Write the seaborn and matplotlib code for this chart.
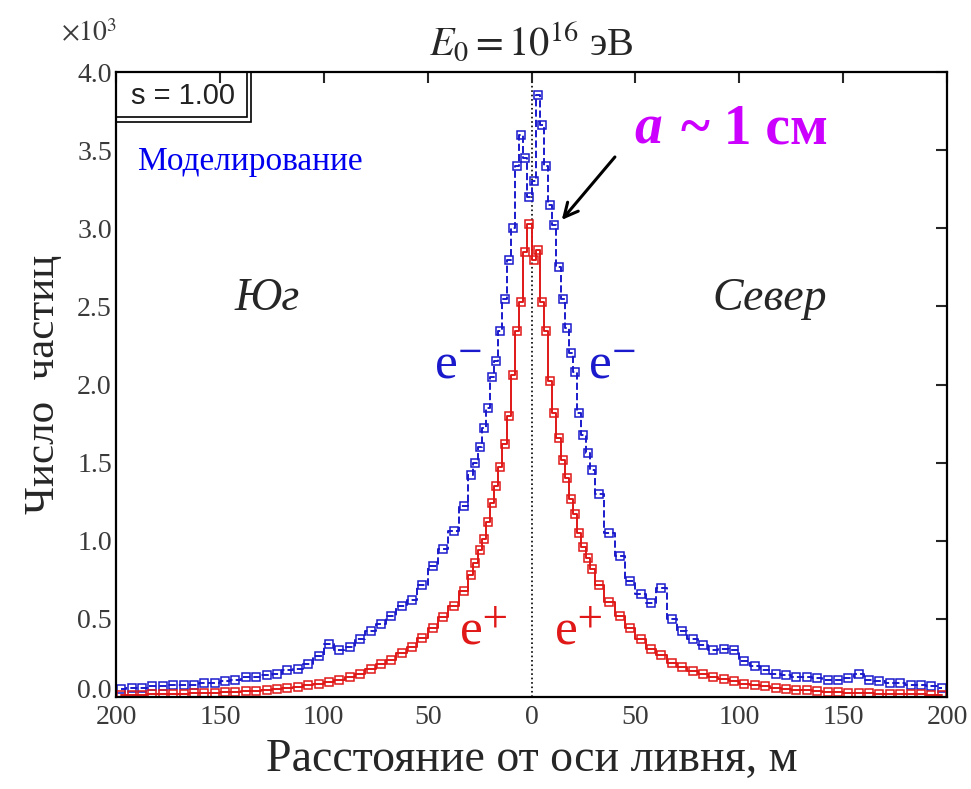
import matplotlib
matplotlib.use("Agg")
import matplotlib.pyplot as plt
import matplotlib.transforms as mtransforms
import seaborn as sns
import numpy as np
from matplotlib.patches import Rectangle

sns.set_style("white")
plt.rcParams["font.family"] = ["Liberation Serif", "DejaVu Serif"]
plt.rcParams["mathtext.fontset"] = "stix"

# bin edges in metres (one side of the shower axis)
bin_edges = np.concatenate([np.arange(0, 31, 2), np.arange(35, 201, 5)])

# counts (x10^3), listed from the axis outwards
e_plus_north = [2.80, 2.86, 2.53, 2.34, 2.02, 1.82, 1.66, 1.52, 1.40, 1.27, 1.17, 1.05, 0.96, 0.89, 0.82,
                0.72, 0.61, 0.52, 0.44, 0.37, 0.31, 0.27, 0.22, 0.19, 0.165,
                0.145, 0.13, 0.115, 0.10, 0.085, 0.075, 0.068, 0.06, 0.052, 0.046,
                0.042, 0.038, 0.034, 0.03, 0.028, 0.026, 0.024, 0.022, 0.02, 0.019,
                0.018, 0.017, 0.016, 0.015]
e_plus_south = [3.03, 2.85, 2.53, 2.34, 2.06, 1.80, 1.62, 1.47, 1.35, 1.24, 1.12, 1.01, 0.94, 0.86, 0.78,
                0.68, 0.58, 0.51, 0.44, 0.38, 0.32, 0.28, 0.24, 0.21, 0.18,
                0.15, 0.13, 0.11, 0.095, 0.085, 0.075, 0.066, 0.058, 0.05, 0.045,
                0.04, 0.036, 0.032, 0.029, 0.027, 0.025, 0.023, 0.021, 0.02, 0.018,
                0.017, 0.016, 0.015, 0.014]
e_minus_north = [3.30, 3.85, 3.66, 3.40, 3.15, 3.02, 2.75, 2.55, 2.36, 2.20, 2.08, 1.82, 1.68, 1.56, 1.45,
                 1.30, 1.05, 0.90, 0.74, 0.66, 0.60, 0.70, 0.50, 0.42, 0.37,
                 0.33, 0.30, 0.31, 0.30, 0.23, 0.20, 0.17, 0.15, 0.14, 0.13,
                 0.13, 0.12, 0.11, 0.11, 0.12, 0.15, 0.11, 0.10, 0.09, 0.09,
                 0.08, 0.08, 0.07, 0.06]
e_minus_south = [3.20, 3.45, 3.60, 3.40, 3.00, 2.80, 2.55, 2.34, 2.15, 2.05, 1.85, 1.72, 1.60, 1.50, 1.42,
                 1.22, 1.06, 0.95, 0.84, 0.72, 0.62, 0.58, 0.52, 0.47, 0.42,
                 0.37, 0.32, 0.30, 0.34, 0.26, 0.21, 0.18, 0.17, 0.15, 0.14,
                 0.13, 0.13, 0.11, 0.10, 0.09, 0.09, 0.08, 0.08, 0.08, 0.07,
                 0.07, 0.06, 0.06, 0.05]

x_ticks = [-200, -150, -100, -50, 0, 50, 100, 150, 200]
x_ticklabels = ["200", "150", "100", "50", "0", "50", "100", "150", "200"]
y_ticks = [0.0, 0.5, 1.0, 1.5, 2.0, 2.5, 3.0, 3.5, 4.0]

centers = (bin_edges[:-1] + bin_edges[1:]) / 2
x_all = np.concatenate([-centers[::-1], centers])
e_minus = np.concatenate([np.array(e_minus_south)[::-1], e_minus_north])
e_plus = np.concatenate([np.array(e_plus_south)[::-1], e_plus_north])

blue = "#1a1acc"
red = "#e01818"

fig = plt.figure(figsize=(9.71, 7.89), dpi=100)
ax = fig.add_axes([0.1195, 0.1166, 0.8558, 0.7921])

sns.lineplot(x=x_all, y=e_minus, ax=ax, color=blue, drawstyle="steps-mid", linestyle="--",
             linewidth=1.4, marker="s", markersize=5.5, markerfacecolor="none",
             markeredgecolor=blue, markeredgewidth=1.1)
sns.lineplot(x=x_all, y=e_plus, ax=ax, color=red, drawstyle="steps-mid", linestyle="-",
             linewidth=1.4, marker="s", markersize=5.5, markerfacecolor="none",
             markeredgecolor=red, markeredgewidth=1.1)

ax.axvline(0, color="black", linestyle=":", linewidth=1.2, zorder=0)

ax.set_xlim(-200, 200)
ax.set_ylim(0, 4.0)
ax.set_xticks(x_ticks)
ax.set_xticklabels(x_ticklabels)
ax.set_yticks(y_ticks)
ax.set_yticklabels([f"{v:.1f}" for v in y_ticks])
ax.tick_params(direction="in", length=8, width=1.5, top=True, right=True,
               labelsize=20, labelcolor="#3a3a3a")
ax.tick_params(axis="y", pad=3)
ax.tick_params(axis="x", pad=6)
for s in ax.spines.values():
    s.set_linewidth(1.6)
    s.set_color("black")

# lift the "0.0" label a little so it clears the first x label
zero_label = ax.get_yticklabels()[0]
zero_label.set_transform(zero_label.get_transform() +
                         mtransforms.ScaledTranslation(0, 6 / 72, fig.dpi_scale_trans))

ax.set_xlabel("Расстояние от оси ливня, м", fontsize=33, labelpad=6)
ax.set_ylabel("Число  частиц", fontsize=31, labelpad=10)
ax.set_title(r"$E_0 = 10^{16}$ эВ", fontsize=29, pad=12)
fig.text(0.063, 0.948, r"$\times10^3$", fontsize=20, color="#3a3a3a")

# double-framed parameter box
ax.add_patch(Rectangle((0, 0.92), 0.1625, 0.08, transform=ax.transAxes, fill=False,
                       edgecolor="black", linewidth=1.2, clip_on=False))
ax.add_patch(Rectangle((0, 0.928), 0.158, 0.072, transform=ax.transAxes, fill=False,
                       edgecolor="black", linewidth=1.2, clip_on=False))
ax.text(0.081, 0.962, "s = 1.00", transform=ax.transAxes, ha="center", va="center",
        fontsize=21, family="Liberation Sans", color="#222222")

ax.text(0.026, 0.856, "Моделирование", transform=ax.transAxes, ha="left", va="center",
        fontsize=24, color="#0000ee")

ax.text(-143, 2.55, "Юг", fontsize=33, style="italic", ha="left", va="center")
ax.text(87, 2.55, "Север", fontsize=33, style="italic", ha="left", va="center")

ax.text(-47, 2.12, r"e$^{-}$", fontsize=37, color=blue, ha="left", va="center")
ax.text(27, 2.12, r"e$^{-}$", fontsize=37, color=blue, ha="left", va="center")
ax.text(-35, 0.42, r"e$^{+}$", fontsize=37, color=red, ha="left", va="center")
ax.text(11, 0.42, r"e$^{+}$", fontsize=37, color=red, ha="left", va="center")

magenta = "#cc00ff"
ax.text(49.5, 3.63, "a", fontsize=40, color=magenta, fontweight="bold", style="italic",
        ha="left", va="center")
ax.text(72, 3.63, "~ 1 см", fontsize=40, color=magenta, fontweight="bold",
        ha="left", va="center")
ax.annotate("", xy=(13.7, 3.04), xytext=(41, 3.47),
            arrowprops=dict(arrowstyle="->", color="black", lw=2.2, mutation_scale=25))

fig.savefig("out.png", dpi=100)
